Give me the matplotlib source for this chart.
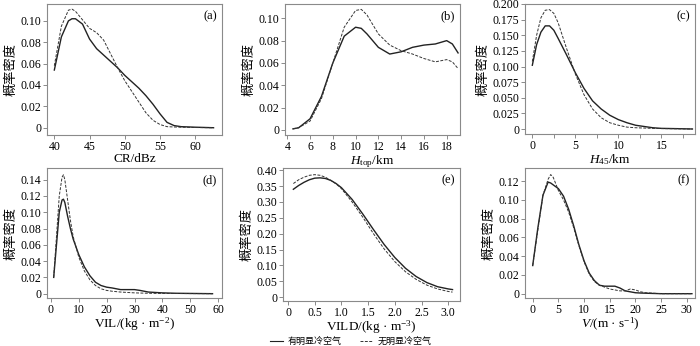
import matplotlib
matplotlib.use("Agg")
import matplotlib.pyplot as plt
from matplotlib.lines import Line2D

plt.rcParams['font.family'] = ['Liberation Serif', 'Noto Sans CJK SC']
plt.rcParams['mathtext.fontset'] = 'custom'
plt.rcParams['mathtext.rm'] = 'Liberation Serif'
plt.rcParams['mathtext.it'] = 'Liberation Serif:italic'

# (a) CR
cr_x = [40, 41, 42, 42.5, 43, 44, 45, 46, 47, 48, 49, 50, 51, 52, 53, 54, 55, 56, 57, 58, 60, 62.6]
cr_cold = [0.054, 0.085, 0.100, 0.102, 0.102, 0.097, 0.083, 0.074, 0.068, 0.062, 0.056, 0.049,
           0.043, 0.037, 0.030, 0.022, 0.013, 0.005, 0.002, 0.001, 0.0005, 0.0]
cr_none = [0.058, 0.095, 0.110, 0.111, 0.109, 0.101, 0.093, 0.089, 0.082, 0.069, 0.056, 0.044,
           0.034, 0.024, 0.014, 0.007, 0.003, 0.001, 0.0007, 0.0005, 0.0002, 0.0]

# (b) Htop
ht_x = [4.5, 5, 6, 7, 8, 9, 10, 10.5, 11, 12, 13, 14, 15, 16, 17, 18, 18.5, 19]
ht_cold = [0.001, 0.002, 0.010, 0.030, 0.060, 0.084, 0.092, 0.091, 0.086, 0.074, 0.068, 0.070,
           0.074, 0.076, 0.077, 0.080, 0.077, 0.069]
ht_none = [0.001, 0.002, 0.008, 0.028, 0.060, 0.092, 0.107, 0.108, 0.103, 0.086, 0.076, 0.071,
           0.068, 0.064, 0.061, 0.063, 0.061, 0.055]

# (c) H45
h45_x = [0, 0.5, 1, 1.5, 2, 2.5, 3, 4, 5, 6, 7, 8, 9, 10, 11, 12, 13, 14, 15, 17, 18.6]
h45_cold = [0.102, 0.135, 0.155, 0.165, 0.165, 0.158, 0.145, 0.118, 0.090, 0.065, 0.045, 0.032,
            0.022, 0.015, 0.010, 0.006, 0.004, 0.002, 0.001, 0.0005, 0.0]
h45_none = [0.108, 0.150, 0.178, 0.190, 0.191, 0.185, 0.170, 0.128, 0.088, 0.055, 0.032, 0.018,
            0.010, 0.006, 0.003, 0.002, 0.0015, 0.001, 0.0007, 0.0003, 0.0]

# (d) VIL
vil_x = [1, 2, 3, 4, 4.5, 5, 6, 7, 8, 10, 12, 14, 16, 18, 20, 22, 25, 30, 32, 35, 40, 45, 58]
vil_cold = [0.020, 0.060, 0.100, 0.115, 0.116, 0.112, 0.095, 0.080, 0.067, 0.048, 0.033, 0.022,
            0.014, 0.010, 0.008, 0.007, 0.005, 0.005, 0.004, 0.002, 0.001, 0.0005, 0.0]
vil_none = [0.020, 0.070, 0.120, 0.143, 0.146, 0.140, 0.115, 0.090, 0.070, 0.045, 0.028, 0.017,
            0.010, 0.006, 0.004, 0.003, 0.002, 0.001, 0.0008, 0.0005, 0.0003, 0.0002, 0.0]

# (e) VILD
vild_x = [0.1, 0.2, 0.3, 0.4, 0.5, 0.6, 0.7, 0.8, 0.9, 1.0, 1.2, 1.4, 1.6, 1.8, 2.0, 2.2, 2.4,
          2.6, 2.8, 3.0, 3.08]
vild_cold = [0.340, 0.352, 0.362, 0.370, 0.375, 0.376, 0.374, 0.368, 0.358, 0.345, 0.308, 0.262,
             0.213, 0.166, 0.125, 0.091, 0.065, 0.046, 0.033, 0.026, 0.024]
vild_none = [0.358, 0.370, 0.378, 0.384, 0.386, 0.384, 0.378, 0.368, 0.357, 0.342, 0.300, 0.252,
             0.200, 0.152, 0.112, 0.080, 0.056, 0.038, 0.026, 0.018, 0.016]

# (f) V
v_x = [0, 1, 2, 3, 3.5, 4, 5, 6, 7, 8, 9, 10, 11, 12, 13, 14, 15, 16, 17, 18, 19, 20, 21, 22, 25, 31]
v_cold = [0.030, 0.070, 0.105, 0.119, 0.118, 0.116, 0.112, 0.104, 0.090, 0.072, 0.052, 0.035,
          0.022, 0.014, 0.009, 0.008, 0.008, 0.008, 0.006, 0.003, 0.002, 0.001, 0.0007, 0.0005,
          0.0, 0.0]
v_none = [0.030, 0.068, 0.105, 0.122, 0.127, 0.124, 0.110, 0.100, 0.087, 0.070, 0.051, 0.034,
          0.021, 0.013, 0.009, 0.007, 0.005, 0.004, 0.003, 0.003, 0.005, 0.004, 0.002, 0.001,
          0.0, 0.0]

legend_labels = ['有明显冷空气', '无明显冷空气']

panels = [
    # x, cold, none, xlabel, tag, xlim, ylim, xticks, yticks, ytick labels, box (left, top, w, h) in px
    (cr_x, cr_cold, cr_none, 'CR/dBz', '(a)', (38.96, 63.8), (-0.0068, 0.1158),
     [40, 45, 50, 55, 60], [0, 0.02, 0.04, 0.06, 0.08, 0.10],
     ['0', '0.02', '0.04', '0.06', '0.08', '0.10'], (47, 4, 175, 131)),
    (ht_x, ht_cold, ht_none, '$H_{\\mathrm{top}}$/km', '(b)', (3.8, 19.17), (-0.0045, 0.1128),
     [4, 6, 8, 10, 12, 14, 16, 18], [0, 0.02, 0.04, 0.06, 0.08, 0.10],
     ['0', '0.02', '0.04', '0.06', '0.08', '0.10'], (285, 4, 175, 131)),
    (h45_x, h45_cold, h45_none, '$H_{45}$/km', '(c)', (-0.85, 18.9), (-0.008, 0.2),
     [0, 5, 10, 15], [0, 0.025, 0.05, 0.075, 0.1, 0.125, 0.15, 0.175, 0.2],
     ['0', '0.025', '0.050', '0.075', '0.100', '0.125', '0.150', '0.175', '0.200'],
     (525, 4, 170, 130)),
    (vil_x, vil_cold, vil_none, 'VIL/(kg · m$^{-2}$)', '(d)', (-1.4, 61.4), (-0.0053, 0.1543),
     [0, 10, 20, 30, 40, 50, 60], [0, 0.02, 0.04, 0.06, 0.08, 0.10, 0.12, 0.14],
     ['0', '0.02', '0.04', '0.06', '0.08', '0.10', '0.12', '0.14'], (47, 168, 175, 130)),
    (vild_x, vild_cold, vild_none, 'VILD/(kg · m$^{-3}$)', '(e)', (-0.094, 3.22), (-0.012, 0.407),
     [0, 0.5, 1.0, 1.5, 2.0, 2.5, 3.0], [0, 0.05, 0.1, 0.15, 0.2, 0.25, 0.3, 0.35, 0.4],
     ['0', '0.05', '0.10', '0.15', '0.20', '0.25', '0.30', '0.35', '0.40'], (283, 168, 177, 133)),
    (v_x, v_cold, v_none, '$V$/(m · s$^{-1}$)', '(f)', (-1.5, 31.6), (-0.0046, 0.134),
     [0, 5, 10, 15, 20, 25, 30], [0, 0.02, 0.04, 0.06, 0.08, 0.10, 0.12],
     ['0', '0.02', '0.04', '0.06', '0.08', '0.10', '0.12'], (525, 168, 170, 130)),
]

W, H = 700, 346
fig = plt.figure(figsize=(W / 100, H / 100), dpi=100)
edge = '#8a8a8a'

for (x, cold, none, xlabel, tag, xlim, ylim, xticks, yticks, ylabels, box) in panels:
    l, t, w, h = box
    ax = fig.add_axes([l / W, 1 - (t + h) / H, w / W, h / H])
    ax.plot(x, cold, color='#222222', lw=1.0)
    ax.plot(x, none, color='#333333', lw=0.7, ls=(0, (3, 1.5)))
    ax.set_xlim(*xlim)
    ax.set_ylim(*ylim)
    ax.set_xticks(xticks)
    ax.set_xticklabels([('%g' % v) if not isinstance(v, float) else '%.1f' % v for v in xticks])
    ax.set_yticks(yticks)
    ax.set_yticklabels(ylabels)
    if tag == '(c)':
        ax.set_xticks([2.5, 7.5, 12.5, 17.5], minor=True)
    for s in ax.spines.values():
        s.set_color(edge)
        s.set_linewidth(0.8)
    ax.tick_params(which='both', direction='out', length=3, width=0.7, color=edge,
                   labelsize=8.5, pad=1.2)
    ax.set_xlabel(xlabel, fontsize=9.5, labelpad=0)
    ax.set_ylabel('概率密度', fontsize=9.5, family=['Noto Sans CJK SC'], labelpad=2)
    ax.text(0.97, 0.95, tag, transform=ax.transAxes, ha='right', va='top', fontsize=9)

handles = [Line2D([], [], color='#222222', lw=0.8),
           Line2D([], [], color='#333333', lw=0.7, ls=(0, (3, 1.5)))]
fig.legend(handles, legend_labels, loc='center', bbox_to_anchor=(0.501, 0.012), ncol=2,
           frameon=False, prop={'family': 'Noto Sans CJK SC', 'size': 6.5},
           handlelength=1.5, handletextpad=0.5, columnspacing=2, borderpad=0)

fig.savefig('out.png', dpi=100)
